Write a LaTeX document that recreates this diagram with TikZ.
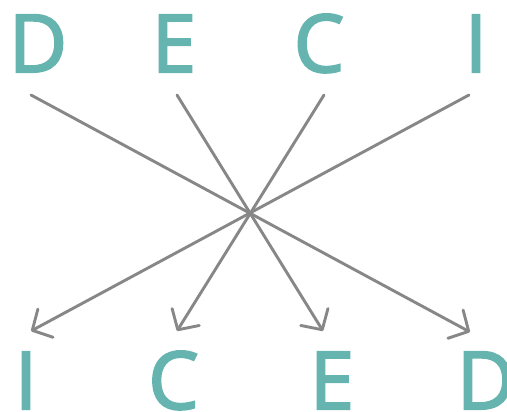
\documentclass[tikz,border=0pt]{standalone}
\usepackage{fontspec}
\setmainfont{Open Sans}
\newfontfamily\lettfont{Open Sans}[FakeBold=2.6]
\usetikzlibrary{arrows.meta}
\definecolor{teal1}{HTML}{66B4AF}
\definecolor{gray1}{HTML}{878787}
\tikzset{
  letter/.style={font=\lettfont\fontsize{80}{80}\selectfont, text=teal1, anchor=base, inner sep=0pt},
  cross/.style={draw=gray1, line width=2.9pt, line cap=round,
    -{Straight Barb[length=15pt, width=32pt, line width=2.9pt, line cap=round, round]}}
}
\begin{document}
\begin{tikzpicture}[x=1pt, y=-1pt]
\useasboundingbox (0,0) rectangle (507,412);
\node[letter] (D1) at (38,72) {D};
\node[letter] (E1) at (174,72) {E};
\node[letter] (C1) at (319,72) {C};
\node[letter] (I1) at (476,72) {I};
\node[letter] (I2) at (26,409) {I};
\node[letter] (C2) at (173.5,409) {C};
\node[letter] (E2) at (332,409) {E};
\node[letter] (D2) at (486,409) {D};
\coordinate (tD) at (31,95);
\coordinate (tE) at (177,95);
\coordinate (tC) at (324,95);
\coordinate (tI) at (469,95);
\coordinate (bI) at (31,331);
\coordinate (bC) at (177,331);
\coordinate (bE) at (323,331);
\coordinate (bD) at (470,332);
\draw[cross] (tD) -- (bD);
\draw[cross] (tE) -- (bE);
\draw[cross] (tC) -- (bC);
\draw[cross] (tI) -- (bI);
\end{tikzpicture}
\end{document}
